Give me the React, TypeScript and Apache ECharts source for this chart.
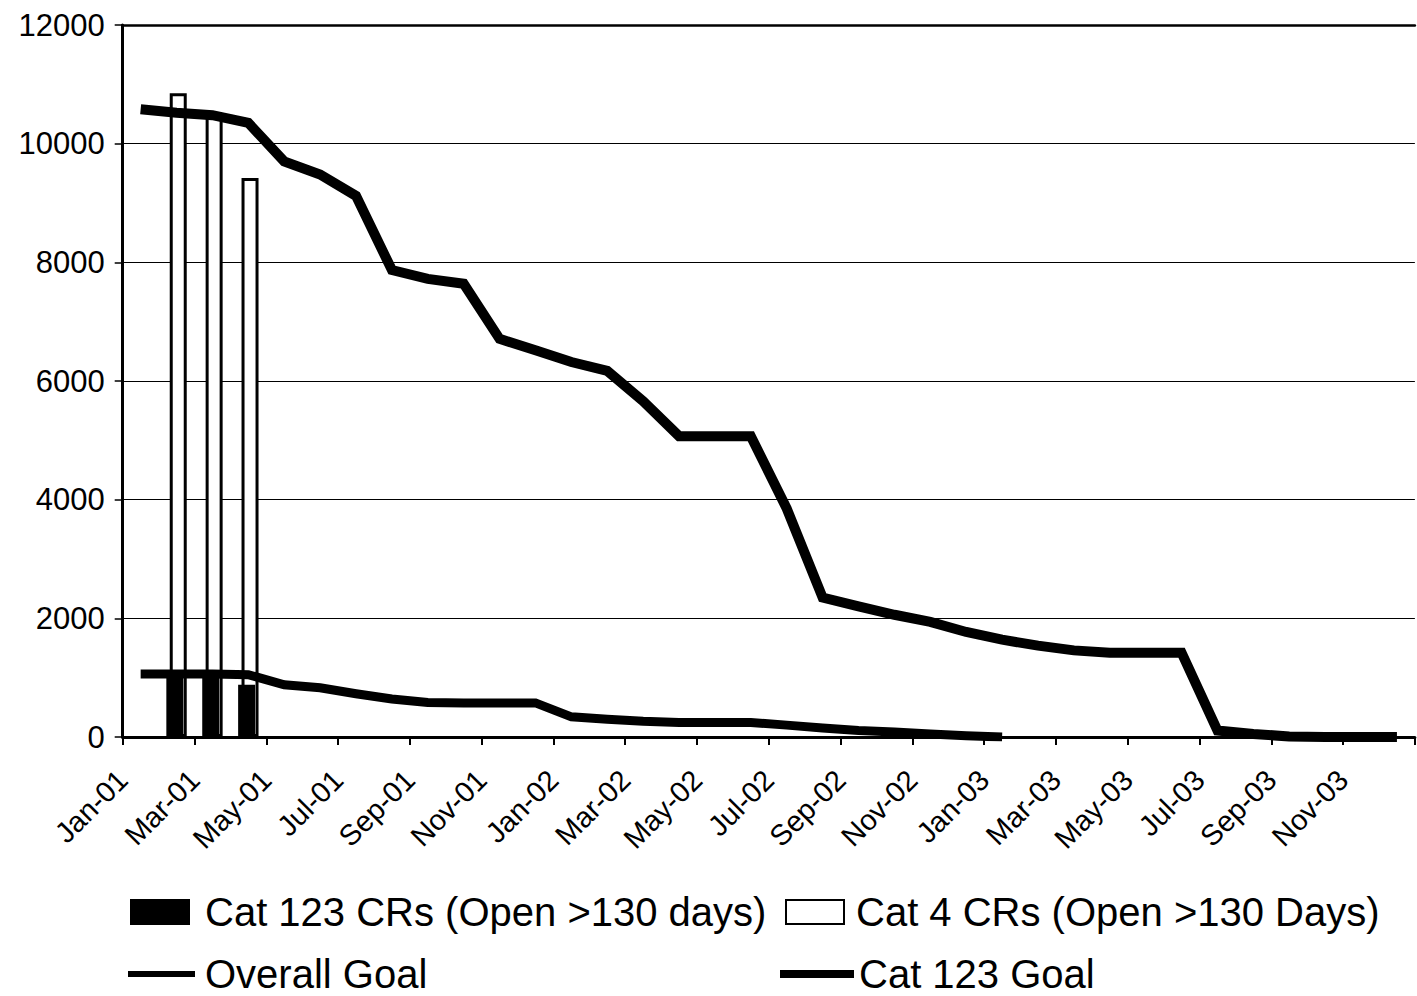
import React, { useEffect, useRef } from "react";
import * as echarts from "echarts";

const months = [
  "Jan-01", "Feb-01", "Mar-01", "Apr-01", "May-01", "Jun-01", "Jul-01", "Aug-01", "Sep-01", "Oct-01", "Nov-01", "Dec-01",
  "Jan-02", "Feb-02", "Mar-02", "Apr-02", "May-02", "Jun-02", "Jul-02", "Aug-02", "Sep-02", "Oct-02", "Nov-02", "Dec-02",
  "Jan-03", "Feb-03", "Mar-03", "Apr-03", "May-03", "Jun-03", "Jul-03", "Aug-03", "Sep-03", "Oct-03", "Nov-03", "Dec-03",
];

const overallGoal = [
  10580, 10520, 10480, 10350, 9700, 9480, 9120, 7870, 7720, 7640, 6710, 6520,
  6320, 6170, 5660, 5070, 5070, 5070, 3850, 2350, 2200, 2060, 1940, 1770,
  1640, 1540, 1460, 1420, 1420, 1420, 110, 50, 10, 0, 0, 0,
];

const cat123Goal = [
  1060, 1060, 1060, 1050, 880, 830, 730, 640, 580, 575, 575, 575,
  340, 300, 265, 245, 245, 245, 200, 150, 110, 85, 50, 20,
  0,
];

const barMonths = ["Feb-01", "Mar-01", "Apr-01"];
const cat123CRs = [1060, 1060, 880];
const cat4CRs = [10850, 10480, 9420];

const yTicks = { min: 0, max: 12000, interval: 2000 };

const NAME_123 = "Cat 123 CRs (Open >130 days)";
const NAME_4 = "Cat 4 CRs (Open >130 Days)";
const NAME_OVERALL = "Overall Goal";
const NAME_123GOAL = "Cat 123 Goal";

const FONT = "'Liberation Sans', Arial, sans-serif";

export default function App() {
  const ref = useRef<HTMLDivElement>(null);

  useEffect(() => {
    if (!ref.current) return;
    const chart = echarts.init(ref.current, undefined, { renderer: "svg" });

    const mid = (i: number) => i + 0.5;
    const barIdx = barMonths.map((m) => months.indexOf(m));

    const legendText = (pad: number) => ({
      fontFamily: FONT,
      fontSize: 40,
      lineHeight: 40,
      color: "#000",
      padding: [0, 0, 0, pad],
    });

    chart.setOption({
      animation: false,
      backgroundColor: "#fff",
      grid: { left: 122.7, top: 25, width: 1303, height: 712, containLabel: false },
      xAxis: [
        {
          type: "value",
          min: 0,
          max: months.length,
          interval: 2,
          position: "bottom",
          axisLine: { show: true, lineStyle: { color: "#000", width: 3 } },
          axisTick: { show: true, length: 8, lineStyle: { color: "#000", width: 2 } },
          splitLine: { show: false },
          axisLabel: {
            rotate: 45,
            margin: 38,
            fontFamily: FONT,
            fontSize: 29,
            color: "#000",
            formatter: (v: number) => (v < months.length ? months[v] : ""),
          },
        },
        {
          type: "value",
          min: 0,
          max: months.length,
          position: "top",
          axisLine: { show: true, lineStyle: { color: "#000", width: 2.5 } },
          axisTick: { show: false },
          axisLabel: { show: false },
          splitLine: { show: false },
        },
      ],
      yAxis: {
        type: "value",
        min: yTicks.min,
        max: yTicks.max,
        interval: yTicks.interval,
        axisLine: { show: true, lineStyle: { color: "#000", width: 3 } },
        axisTick: { show: true, length: 8, lineStyle: { color: "#000", width: 1.5 } },
        splitLine: { show: true, lineStyle: { color: "#000", width: 1.2 } },
        axisLabel: {
          fontFamily: FONT,
          fontSize: 31,
          color: "#000",
          margin: 18,
          formatter: (v: number) => String(v),
        },
      },
      legend: [
        {
          data: [NAME_123],
          left: 130,
          top: 892,
          padding: 0,
          itemWidth: 60,
          itemHeight: 26,
          icon: "rect",
          textStyle: legendText(10),
        },
        {
          data: [NAME_4],
          left: 785,
          top: 892,
          padding: 0,
          itemWidth: 58,
          itemHeight: 24,
          icon: "rect",
          textStyle: legendText(7),
        },
        {
          data: [NAME_OVERALL],
          left: 128,
          top: 954,
          padding: 0,
          itemWidth: 67,
          itemHeight: 6,
          icon: "rect",
          textStyle: legendText(5),
        },
        {
          data: [NAME_123GOAL],
          left: 780,
          top: 954,
          padding: 0,
          itemWidth: 74,
          itemHeight: 8,
          icon: "rect",
          textStyle: legendText(0),
        },
      ],
      series: [
        {
          name: NAME_123,
          type: "bar",
          xAxisIndex: 0,
          barWidth: 17,
          barGap: "-80%",
          z: 2,
          itemStyle: { color: "#000", borderColor: "#000", borderWidth: 0 },
          data: barIdx.map((m, i) => [mid(m), cat123CRs[i]]),
        },
        {
          name: NAME_4,
          type: "bar",
          xAxisIndex: 0,
          barWidth: 17,
          barGap: "-80%",
          z: 1,
          itemStyle: { color: "#fff", borderColor: "#000", borderWidth: 3 },
          data: barIdx.map((m, i) => [mid(m), cat4CRs[i]]),
        },
        {
          name: NAME_OVERALL,
          type: "line",
          xAxisIndex: 0,
          z: 3,
          symbol: "none",
          color: "#000",
          lineStyle: { color: "#000", width: 10, join: "miter" },
          data: overallGoal.map((v, i) => [mid(i), v]),
        },
        {
          name: NAME_123GOAL,
          type: "line",
          xAxisIndex: 0,
          z: 3,
          symbol: "none",
          color: "#000",
          lineStyle: { color: "#000", width: 9, join: "miter" },
          data: cat123Goal.map((v, i) => [mid(i), v]),
        },
      ],
    });

    return () => chart.dispose();
  }, []);

  return (
    <div
      ref={ref}
      style={{ position: "absolute", left: 0, top: 0, width: 1417, height: 996, overflow: "hidden" }}
    />
  );
}
